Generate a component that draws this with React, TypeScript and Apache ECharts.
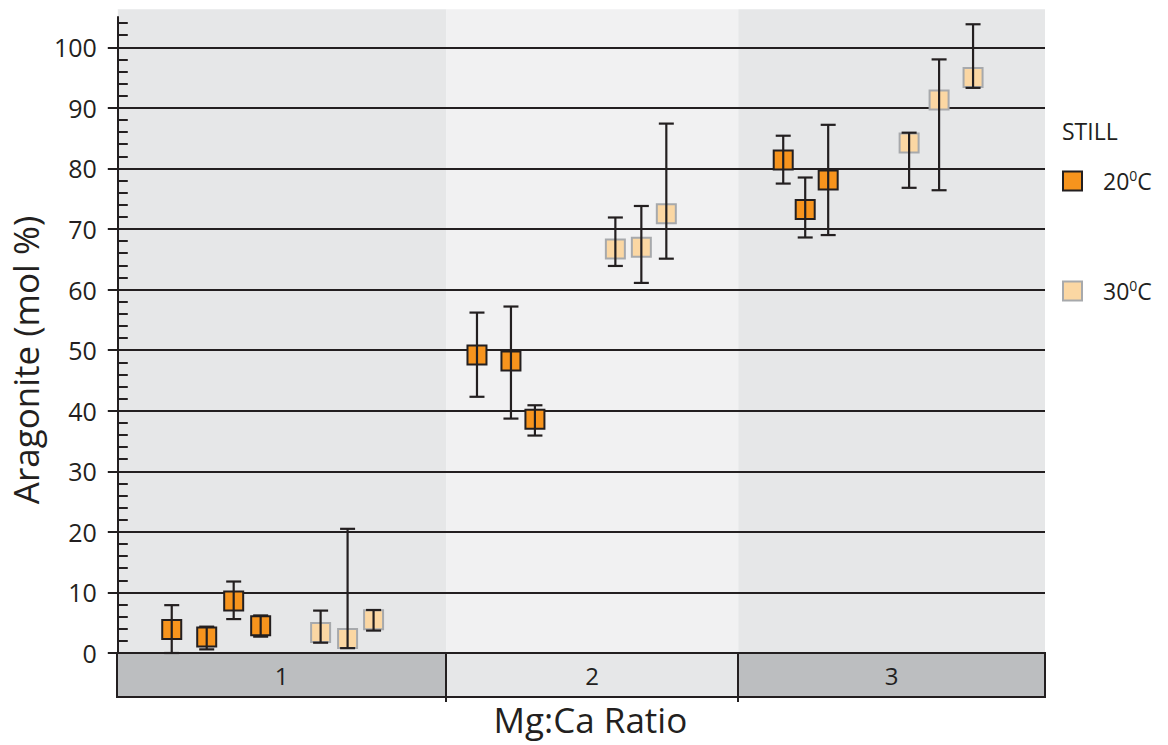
import React, { useEffect, useRef } from "react";
import * as echarts from "echarts";

// ---- data ----
const groupLabels = ["1", "2", "3"];
const groupBounds = [0, 3.29, 6.21, 9.28];
const yTicks = [0, 10, 20, 30, 40, 50, 60, 70, 80, 90, 100];
const yMinorTicks = [2, 4, 6, 8, 12, 14, 16, 18, 22, 24, 26, 28, 32, 34, 36, 38, 42, 44, 46, 48, 52, 54, 56, 58, 62, 64, 66, 68, 72, 74, 76, 78, 82, 84, 86, 88, 92, 94, 96, 98, 102, 104];

const seriesNames = ["20°C", "30°C"];
const pos20 = [0.54, 0.89, 1.16, 1.43, 3.595, 3.935, 4.175, 6.66, 6.88, 7.11];
const val20 = [3.9, 2.65, 8.6, 4.5, 49.2, 48.2, 38.6, 81.4, 73.2, 78.1];
const lo20 = [0, 0.6, 5.6, 2.7, 42.3, 38.7, 35.9, 77.5, 68.6, 69.0];
const hi20 = [7.9, 4.35, 11.8, 6.2, 56.2, 57.2, 40.9, 85.4, 78.5, 87.2];

const pos30 = [2.03, 2.3, 2.56, 4.98, 5.24, 5.49, 7.92, 8.22, 8.56];
const val30 = [3.4, 2.4, 5.5, 66.7, 67.0, 72.5, 84.2, 91.3, 95.0];
const lo30 = [1.7, 0.8, 3.7, 63.9, 61.1, 65.1, 76.8, 76.4, 93.3];
const hi30 = [7.0, 20.5, 7.1, 71.9, 73.8, 87.4, 85.9, 98.0, 103.8];

const FONT = "Open Sans";
const INK = "#231f20";
const Y_MAX = 105;
const BG_TOP = 106.3;

export default function App() {
  const ref = useRef<HTMLDivElement>(null);

  useEffect(() => {
    if (!ref.current) return;
    const chart = echarts.init(ref.current, null, { renderer: "svg" });

    const bands = groupLabels.map((l, i) => [groupBounds[i], groupBounds[i + 1], i]);
    const bgColors = ["#e6e7e8", "#f1f1f2", "#e6e7e8"];
    const stripColors = ["#bcbec0", "#e6e7e8", "#bcbec0"];

    const err20 = pos20.map((x, i) => [x, lo20[i], hi20[i]]);
    const err30 = pos30.map((x, i) => [x, lo30[i], hi30[i]]);
    const pts20 = pos20.map((x, i) => [x, val20[i]]);
    const pts30 = pos30.map((x, i) => [x, val30[i]]);

    const errRender = (params: any, api: any) => {
      const x = api.value(0);
      const top = api.coord([x, api.value(2)]);
      const bot = api.coord([x, api.value(1)]);
      const half = 7.5;
      const st = { stroke: INK, lineWidth: 2.2 };
      return {
        type: "group",
        children: [
          { type: "line", shape: { x1: top[0], y1: top[1], x2: bot[0], y2: bot[1] }, style: st },
          { type: "line", shape: { x1: top[0] - half, y1: top[1], x2: top[0] + half, y2: top[1] }, style: st },
          { type: "line", shape: { x1: bot[0] - half, y1: bot[1], x2: bot[0] + half, y2: bot[1] }, style: st },
        ],
      };
    };

    const option: any = {
      animation: false,
      textStyle: { fontFamily: FONT, color: INK },
      title: {
        text: "STILL",
        left: 1062,
        top: 119,
        padding: 0,
        textStyle: { fontSize: 23, fontWeight: "normal", color: INK, fontFamily: FONT },
      },
      legend: {
        data: seriesNames,
        orient: "vertical",
        left: 1062,
        top: 168,
        padding: 0,
        itemWidth: 19,
        itemHeight: 19,
        itemGap: 84,
        icon: "rect",
        formatter: (name: string) => name.replace(/(\d+)°C/, "$1{sup|0}C"),
        textStyle: {
          fontFamily: FONT,
          fontSize: 23,
          color: INK,
          lineHeight: 26,
          padding: [0, 0, 0, 16],
          rich: {
            sup: { fontSize: 14, lineHeight: 14, verticalAlign: "top", fontFamily: FONT, color: INK, padding: [0, 0, 6, 0] },
          },
        },
      },
      grid: [
        { left: 117, right: 123, top: 17, bottom: 92 },
        { left: 117, right: 123, top: 653, height: 44 },
      ],
      xAxis: [
        {
          type: "value",
          gridIndex: 0,
          min: groupBounds[0],
          max: groupBounds[groupBounds.length - 1],
          axisLine: { show: false },
          axisTick: { show: false },
          axisLabel: { show: false },
          splitLine: { show: false },
          name: "Mg:Ca Ratio",
          nameLocation: "middle",
          nameGap: 49,
          nameTextStyle: { fontSize: 35, color: INK, fontFamily: FONT, padding: [0, 0, 0, 18] },
        },
        {
          type: "value",
          gridIndex: 1,
          min: groupBounds[0],
          max: groupBounds[groupBounds.length - 1],
          show: false,
        },
      ],
      yAxis: [
        {
          type: "value",
          gridIndex: 0,
          position: "left",
          min: 0,
          max: Y_MAX,
          interval: 10,
          axisLine: { show: true, lineStyle: { color: INK, width: 2 } },
          axisTick: { show: true, inside: false, length: 10, lineStyle: { color: INK, width: 2 }, customValues: yTicks },
          axisLabel: {
            margin: 21,
            fontSize: 25,
            color: INK,
            fontFamily: FONT,
            formatter: (v: number) => (v > 100 ? "" : String(v)),
          },
          splitLine: { show: true, lineStyle: { color: INK, width: 2 } },
          name: "Aragonite (mol %)",
          nameLocation: "middle",
          nameGap: 73,
          nameTextStyle: { fontSize: 35, color: INK, fontFamily: FONT, padding: [0, 50, 0, 0] },
        },
        {
          type: "value",
          gridIndex: 0,
          position: "left",
          min: 0,
          max: Y_MAX,
          interval: 2,
          axisLine: { show: false },
          axisTick: { show: true, inside: true, length: 10, lineStyle: { color: INK, width: 2 }, customValues: yMinorTicks },
          axisLabel: { show: false },
          splitLine: { show: false },
        },
        { type: "value", gridIndex: 1, min: 0, max: 1, show: false },
      ],
      series: [
        {
          type: "custom",
          name: "bg",
          xAxisIndex: 0,
          yAxisIndex: 0,
          z: -1,
          silent: true,
          clip: false,
          data: bands,
          encode: { x: [0, 1] },
          renderItem: (params: any, api: any) => {
            const a = api.coord([api.value(0), BG_TOP]);
            const b = api.coord([api.value(1), 0]);
            return {
              type: "rect",
              shape: { x: a[0], y: a[1], width: b[0] - a[0], height: b[1] - a[1] },
              style: { fill: bgColors[api.value(2)] },
            };
          },
        },
        {
          type: "custom",
          name: "strip",
          xAxisIndex: 1,
          yAxisIndex: 2,
          silent: true,
          clip: false,
          data: bands,
          encode: { x: [0, 1] },
          renderItem: (params: any, api: any) => {
            const a = api.coord([api.value(0), 1]);
            const b = api.coord([api.value(1), 0]);
            const idx = api.value(2);
            const children: any[] = [
              {
                type: "rect",
                shape: { x: a[0], y: a[1], width: b[0] - a[0], height: b[1] - a[1] },
                style: { fill: stripColors[idx], stroke: INK, lineWidth: 2 },
              },
              {
                type: "text",
                x: (a[0] + b[0]) / 2,
                y: (a[1] + b[1]) / 2,
                style: {
                  text: groupLabels[idx],
                  fontSize: 24,
                  fontFamily: FONT,
                  fill: INK,
                  align: "center",
                  verticalAlign: "middle",
                },
              },
            ];
            if (idx < groupLabels.length - 1) {
              children.push({
                type: "line",
                shape: { x1: b[0], y1: b[1], x2: b[0], y2: b[1] + 5 },
                style: { stroke: INK, lineWidth: 2 },
              });
            }
            return { type: "group", children };
          },
        },
        {
          type: "scatter",
          name: seriesNames[0],
          xAxisIndex: 0,
          yAxisIndex: 0,
          symbol: "rect",
          symbolSize: 19,
          z: 2,
          data: pts20,
          itemStyle: { color: "#f7941d", borderColor: INK, borderWidth: 2, opacity: 1 },
        },
        {
          type: "scatter",
          name: seriesNames[1],
          xAxisIndex: 0,
          yAxisIndex: 0,
          symbol: "rect",
          symbolSize: 19,
          z: 2,
          data: pts30,
          itemStyle: { color: "#fbd7a3", borderColor: "#a7a9ac", borderWidth: 2, opacity: 1 },
        },
        {
          type: "custom",
          name: "err20",
          xAxisIndex: 0,
          yAxisIndex: 0,
          z: 3,
          silent: true,
          data: err20,
          encode: { x: 0, y: [1, 2] },
          renderItem: errRender,
        },
        {
          type: "custom",
          name: "err30",
          xAxisIndex: 0,
          yAxisIndex: 0,
          z: 3,
          silent: true,
          data: err30,
          encode: { x: 0, y: [1, 2] },
          renderItem: errRender,
        },
      ],
    };

    chart.setOption(option);
    return () => chart.dispose();
  }, []);

  return (
    <div
      ref={ref}
      style={{ position: "fixed", left: 0, top: 0, width: 1168, height: 745, background: "#ffffff" }}
    />
  );
}
